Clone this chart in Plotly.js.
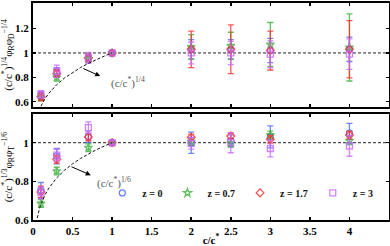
<!DOCTYPE html>
<html>
<head>
<meta charset="utf-8">
<script src="https://cdn.plot.ly/plotly-3.0.1.min.js"></script>
<style>html,body{margin:0;padding:0;background:#fff;}#chart{width:390px;height:246px;}</style>
</head>
<body>
<div id="chart"></div>
<script>
// concentrations c/c*
const xs = [0.1, 0.3, 0.7, 1, 2, 2.5, 3, 4];
const seriesNames = ['z = 0', 'z = 0.7', 'z = 1.7', 'z = 3'];

// top panel: (c/c*)^{1/4} phi_R phi_D^{-1/4}
const topZ0 = [0.65, 0.84, 0.96, 1.0, 1.03, 1.03, 1.02, 1.03];
const topZ0Err = [0.03, 0.04, 0.03, 0.01, 0.08, 0.08, 0.10, 0.10];
const topZ07 = [0.63, 0.80, 0.95, 1.0, 1.05, 1.06, 1.07, 1.045];
const topZ07Err = [0.02, 0.03, 0.02, 0.01, 0.10, 0.11, 0.18, 0.275];
const topZ17 = [0.64, 0.83, 0.96, 1.0, 1.03, 1.03, 1.02, 1.03];
const topZ17Err = [0.03, 0.03, 0.03, 0.02, 0.15, 0.20, 0.16, 0.235];
const topZ3 = [0.66, 0.85, 0.96, 1.0, 1.0, 1.0, 0.99, 0.99];
const topZ3Err = [0.03, 0.05, 0.045, 0.01, 0.09, 0.095, 0.11, 0.125];

// bottom panel: (c/c*)^{1/3} phi_R phi_T^{-1/6}
const botZ0 = [0.754, 0.93, 1.031, 1.0, 1.0, 1.01, 1.03, 1.05];
const botZ0Err = [0.04, 0.04, 0.03, 0.01, 0.055, 0.03, 0.057, 0.05];
const botZ07 = [0.685, 0.853, 0.974, 1.0, 1.005, 0.997, 1.04, 1.01];
const botZ07Err = [0.02, 0.02, 0.02, 0.01, 0.02, 0.02, 0.02, 0.02];
const botZ17 = [0.745, 0.914, 1.03, 1.0, 1.028, 1.035, 1.018, 1.04];
const botZ17Err = [0.03, 0.02, 0.02, 0.01, 0.015, 0.015, 0.02, 0.02];
const botZ3 = [0.74, 0.936, 1.078, 1.0, 0.997, 1.0, 0.97, 0.983];
const botZ3Err = [0.03, 0.03, 0.03, 0.01, 0.03, 0.052, 0.043, 0.053];

// scaling-law guide curves (c/c*)^{1/4} and (c/c*)^{1/6}
const curveX = [0.04, 0.05, 0.06, 0.07, 0.08, 0.1, 0.12, 0.15, 0.2, 0.25, 0.3, 0.4, 0.5, 0.6, 0.7, 0.8, 0.9, 1.0];
const topExponent = 1/4;
const botExponent = 1/6;

const xTicks = [0, 0.5, 1, 1.5, 2, 2.5, 3, 3.5, 4];
const xTickText = ['0', '0.5', '1', '1.5', '2', '2.5', '3', '3.5', '4'];
const topYTicks = [0.6, 0.8, 1, 1.2];
const botYTicks = [0.6, 0.8, 1];

const colors = ['#4a66ff', '#3aae3a', '#ff2a2a', '#c766ff'];
const symbols = ['circle-open', 'star-open', 'diamond-open', 'square-open'];

const SERIF = 'Liberation Serif, Times New Roman, serif';

const topSets = [[topZ0, topZ0Err], [topZ07, topZ07Err], [topZ17, topZ17Err], [topZ3, topZ3Err]];
const botSets = [[botZ0, botZ0Err], [botZ07, botZ07Err], [botZ17, botZ17Err], [botZ3, botZ3Err]];

const traces = [];
topSets.forEach((s, i) => {
  traces.push({
    x: xs, y: s[0], xaxis: 'x2', yaxis: 'y2', type: 'scatter', mode: 'markers',
    name: seriesNames[i], showlegend: false, opacity: 0.8,
    marker: {symbol: symbols[i], color: colors[i], size: 6, line: {width: 1.3, color: colors[i]}},
    error_y: {type: 'data', array: s[1], visible: true, color: colors[i], thickness: 1.3, width: 3}
  });
});
botSets.forEach((s, i) => {
  traces.push({
    x: xs, y: s[0], xaxis: 'x', yaxis: 'y', type: 'scatter', mode: 'markers',
    name: seriesNames[i], showlegend: true, opacity: 0.8,
    marker: {symbol: symbols[i], color: colors[i], size: 6, line: {width: 1.3, color: colors[i]}},
    error_y: {type: 'data', array: s[1], visible: true, color: colors[i], thickness: 1.3, width: 3}
  });
});
traces.push({
  x: curveX, y: curveX.map(v => Math.pow(v, topExponent)), xaxis: 'x2', yaxis: 'y2',
  type: 'scatter', mode: 'lines', showlegend: false, hoverinfo: 'skip',
  line: {color: '#111', width: 1, dash: '3px,2px'}
});
traces.push({
  x: curveX, y: curveX.map(v => Math.pow(v, botExponent)), xaxis: 'x', yaxis: 'y',
  type: 'scatter', mode: 'lines', showlegend: false, hoverinfo: 'skip',
  line: {color: '#111', width: 1, dash: '3px,2px'}
});

const axisCommon = {
  showline: true, linewidth: 2, linecolor: '#000', mirror: 'ticks',
  ticks: 'inside', ticklen: 3, tickwidth: 1.5, tickcolor: '#000',
  showgrid: false, zeroline: false,
  tickfont: {family: SERIF, size: 11, color: '#000', weight: 'bold'}
};

const layout = {
  width: 390, height: 246,
  margin: {l: 33, r: 1, t: 3, b: 26},
  paper_bgcolor: '#fff', plot_bgcolor: '#fff',
  showlegend: true,
  legend: {
    orientation: 'h', x: 0.97, y: 0.125, xanchor: 'right', yanchor: 'middle',
    bgcolor: 'rgba(0,0,0,0)', itemwidth: 30, tracegroupgap: 0,
    font: {family: SERIF, size: 10, color: '#111', weight: 'bold'}
  },
  xaxis: Object.assign({}, axisCommon, {
    domain: [0, 1], anchor: 'y', range: [0, 4.5],
    tickvals: xTicks, ticktext: xTickText,
    title: {text: 'c/c<sup>*</sup>', standoff: 7, font: {family: SERIF, size: 11, color: '#000', weight: 'bold'}}
  }),
  yaxis: Object.assign({}, axisCommon, {
    domain: [0, 0.488], anchor: 'x', range: [0.6, 1.148],
    tickvals: botYTicks, ticktext: ['0.6', '0.8', '1'],
    title: {text: '(c/c<sup>*</sup>)<sup>1/3</sup>φ<sub>R</sub>φ<sub>T</sub><sup>−1/6</sup>', standoff: 2,
            font: {family: SERIF, size: 11, color: '#000'}}
  }),
  xaxis2: Object.assign({}, axisCommon, {
    domain: [0, 1], anchor: 'y2', range: [0, 4.5], matches: 'x',
    tickvals: xTicks, showticklabels: false
  }),
  yaxis2: Object.assign({}, axisCommon, {
    domain: [0.521, 1], anchor: 'x2', range: [0.557, 1.41],
    tickvals: topYTicks, ticktext: ['0.6', '0.8', '1', '1.2'],
    title: {text: '(c/c<sup>*</sup>)<sup>1/4</sup>φ<sub>R</sub>φ<sub>D</sub><sup>−1/4</sup>', standoff: 2,
            font: {family: SERIF, size: 11, color: '#000'}}
  }),
  shapes: [
    {type: 'line', xref: 'x domain', yref: 'y', x0: 0, x1: 1, y0: 1, y1: 1, layer: 'below',
     line: {color: '#222', width: 1, dash: '3px,2px'}},
    {type: 'line', xref: 'x2 domain', yref: 'y2', x0: 0, x1: 1, y0: 1, y1: 1, layer: 'below',
     line: {color: '#222', width: 1, dash: '3px,2px'}}
  ],
  annotations: [
    {xref: 'x2', yref: 'y2', x: 0.85, y: 0.81, axref: 'x2', ayref: 'y2', ax: 0.616, ay: 0.878,
     showarrow: true, arrowhead: 2, arrowsize: 1, arrowwidth: 1, arrowcolor: '#000', text: ''},
    {xref: 'x2', yref: 'y2', x: 1.2, y: 0.755, showarrow: false,
     text: '(c/c<sup>*</sup>)<sup>1/4</sup>', font: {family: SERIF, size: 11, color: '#555'}},
    {xref: 'x', yref: 'y', x: 0.73, y: 0.832, axref: 'x', ayref: 'y', ax: 0.468, ay: 0.879,
     showarrow: true, arrowhead: 2, arrowsize: 1, arrowwidth: 1, arrowcolor: '#000', text: ''},
    {xref: 'x', yref: 'y', x: 1.02, y: 0.792, showarrow: false,
     text: '(c/c<sup>*</sup>)<sup>1/6</sup>', font: {family: SERIF, size: 11, color: '#555'}}
  ]
};

Plotly.newPlot('chart', traces, layout, {displayModeBar: false, staticPlot: true});
</script>
</body>
</html>
